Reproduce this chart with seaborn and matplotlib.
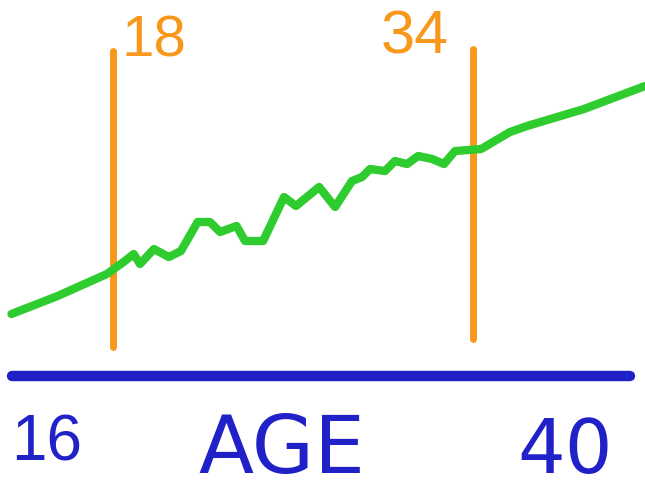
import matplotlib
matplotlib.use("Agg")
import matplotlib.pyplot as plt
import seaborn as sns
import pandas as pd

# hand-drawn trend over age, level is an arbitrary scale
ages = [13.49, 15.54, 17.73, 18.47, 18.92, 19.2, 19.82, 20.48, 21.02, 21.76,
        22.31, 22.76, 23.49, 23.87, 24.67, 25.6, 26.13, 27.16, 27.87, 28.62,
        29.07, 29.42, 30.09, 30.53, 31.07, 31.56, 32.18, 32.71, 33.2, 34.36,
        35.64, 36.4, 38.93, 41.64]
levels = [6.5, 8.3, 10.5, 11.7, 12.5, 11.5, 13.0, 12.2, 12.8, 15.7,
          15.7, 14.7, 15.3, 13.8, 13.8, 18.2, 17.3, 19.2, 17.2, 19.8,
          20.2, 21.0, 20.8, 21.8, 21.5, 22.3, 22.0, 21.5, 22.8, 23.0,
          24.7, 25.3, 27.0, 29.3]

marker_ages = [18, 34]
marker_labels = ["18", "34"]
axis_labels = ["16", "AGE", "40"]

GREEN = "#2ecc2e"
ORANGE = "#f7981d"
BLUE = "#2121c8"

df = pd.DataFrame({"age": ages, "level": levels})

sns.set_style("white")
narrow = ["Liberation Sans", "DejaVu Sans"]
fig = plt.figure(figsize=(6.45, 4.89), dpi=100)
ax = fig.add_axes([0, 0, 1, 1])

# orange age markers
ax.vlines(marker_ages[0], 3.2, 32.8, color=ORANGE, lw=5, capstyle="round")
ax.vlines(marker_ages[1], 4.0, 33.0, color=ORANGE, lw=5, capstyle="round")

sns.lineplot(data=df, x="age", y="level", color=GREEN, lw=6, ax=ax,
             solid_capstyle="round", solid_joinstyle="round")

# blue baseline
ax.hlines(0.3, 13.51, 40.98, color=BLUE, lw=7.5, capstyle="round")

ax.text(19.8, 33.8, marker_labels[0], color=ORANGE, fontsize=42,
        family=narrow, ha="center", va="center")
ax.text(31.4, 34.2, marker_labels[1], color=ORANGE, fontsize=44,
        family=narrow, ha="center", va="center")

ax.text(15.07, -6.4, axis_labels[0], color=BLUE, fontsize=46,
        family=narrow, ha="center", va="center")
ax.text(25.5, -7.1, axis_labels[1], color=BLUE, fontsize=58,
        ha="center", va="center")
ax.text(38.1, -7.3, axis_labels[2], color=BLUE, fontsize=54,
        ha="center", va="center")

ax.set_xlim(12.98, 41.64)
ax.set_ylim(-10.9, 38)
ax.axis("off")

fig.savefig("out.png", dpi=100, facecolor="white")
